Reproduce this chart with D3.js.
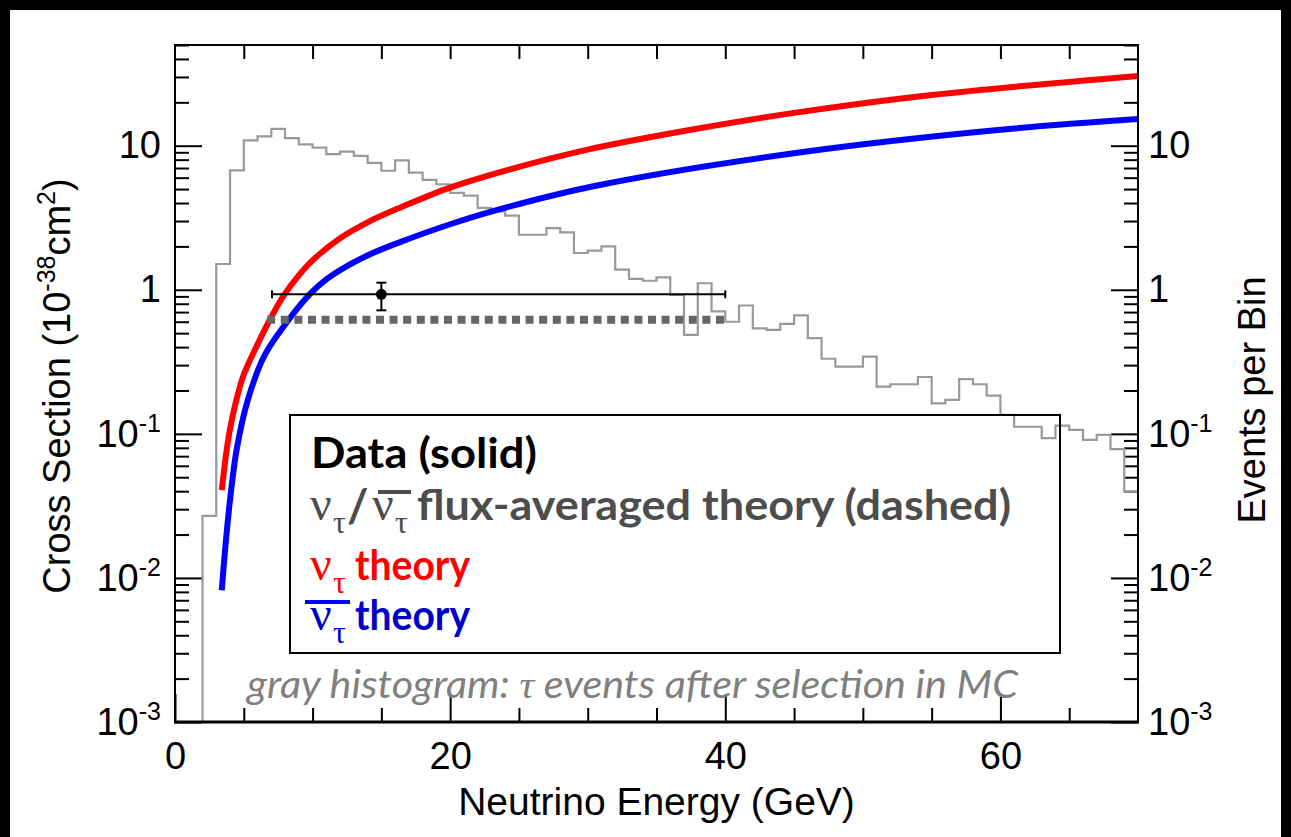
<!DOCTYPE html>
<html>
<head>
<meta charset="utf-8">
<script src="https://cdn.jsdelivr.net/npm/d3@7"></script>
<style>
  body { margin: 0; background: #fff; }
  svg { display: block; }
</style>
</head>
<body>
<svg id="chart"></svg>
<script>
// MC tau events per 1 GeV bin, 0..70 GeV (0 = below the axis)
const histBinWidth = 1;
const histCounts = [
  0, 0, 0.027, 1.51, 6.74, 10.9, 11.6, 13.1, 11.3, 10.2,
  9.7, 8.75, 9.1, 8.5, 7.6, 6.7, 7.9, 6.5, 5.8, 5.4,
  4.7, 4.5, 3.7, 3.5, 3.27, 2.41, 2.41, 2.68, 2.5, 1.8,
  1.87, 2.0, 1.38, 1.19, 1.155, 1.22, 0.92, 0.487, 1.11, 0.707,
  0.6, 0.778, 0.54, 0.527, 0.58, 0.665, 0.462, 0.332, 0.293, 0.293,
  0.344, 0.213, 0.221, 0.221, 0.248, 0.163, 0.172, 0.24, 0.221, 0.184,
  0.1355, 0.112, 0.112, 0.0933, 0.114, 0.1066, 0.0908, 0.0984, 0.0783, 0.0397
];

// nu_tau theory (red)
const nutauEnergy = [3.4, 3.75, 4.0, 4.4, 5, 6, 7, 7.9, 9, 10, 12, 14, 16.4, 20, 25, 30, 37.7, 45, 55, 70];
const nutauXsec   = [0.0407, 0.0764, 0.108, 0.163, 0.258, 0.418, 0.647, 0.912, 1.26, 1.60, 2.28, 2.94, 3.73, 5.12, 7.13, 9.40, 13.0, 16.9, 22.5, 30.5];

// anti nu_tau theory (blue)
const nutaubarEnergy = [3.4, 3.64, 4.0, 4.5, 5.3, 6.5, 8.4, 9.8, 11, 12.5, 14.5, 16.4, 20, 23.5, 30.5, 45.5, 60, 70];
const nutaubarXsec   = [0.0082, 0.0156, 0.0348, 0.0796, 0.173, 0.349, 0.644, 0.933, 1.18, 1.46, 1.82, 2.15, 2.85, 3.60, 5.25, 9.0, 12.9, 15.3];

// measured point
const dataEnergy = [15];
const dataXsec = [0.93];
const dataEnergyRange = [7.05, 40];
const dataXsecRange = [0.72, 1.12];

// flux-averaged theory (dashed)
const avgEnergyRange = [6.7, 40.3];
const avgXsec = [0.62];

const energyTickLabels = [0, 20, 40, 60];
const energyMinorTicks = [5, 10, 15, 25, 30, 35, 45, 50, 55, 65];
const energyTopTicks = [5, 10, 15, 20, 25, 30, 35, 40, 45, 50, 55, 60, 65];
const decadeTicks = [1e-3, 1e-2, 1e-1, 1, 10];

class XsecChart {
  constructor() {
    this.svg = null;
    this.xscale = null;
    this.yscale = null;
  }

  init() {
    this.makeFig();
  }

  makeFig() {
    const width = 1291;
    const height = 837;
    const margin = {top: 45, right: 153, bottom: 115, left: 175};
    const w = width - margin.left - margin.right;
    const h = height - margin.top - margin.bottom;
    const sans = "'Liberation Sans', Arial, Helvetica, sans-serif";
    const legendFont = "Lato, 'Open Sans', sans-serif";
    const serif = "'Liberation Serif', 'Times New Roman', serif";

    const root = d3.select('#chart')
      .attr('width', width)
      .attr('height', height);
    root.selectAll('*').remove();

    // black frame round the picture
    root.append('rect').attr('x', 0).attr('y', 0).attr('width', width).attr('height', 10).attr('fill', '#000');
    root.append('rect').attr('x', 0).attr('y', 0).attr('width', 10).attr('height', height).attr('fill', '#000');
    root.append('rect').attr('x', width - 10).attr('y', 0).attr('width', 10).attr('height', height).attr('fill', '#000');

    this.svg = root.append('g')
      .attr('transform', `translate(${margin.left}, ${margin.top})`);

    this.xscale = d3.scaleLinear()
      .domain([0, 70])
      .range([0, w]);

    this.yscale = d3.scaleLog()
      .domain([1e-3, 50])
      .range([h, 0]);

    const x = this.xscale;
    const y = this.yscale;
    const yMin = y.domain()[0];
    const yc = v => y(Math.max(v, yMin));

    this.svg.append('clipPath').attr('id', 'plotclip')
      .append('rect').attr('width', w).attr('height', h);

    // axes
    const styleAxis = g => {
      g.select('.domain').remove();
      g.selectAll('.tick line').attr('stroke', '#000').attr('stroke-width', 2);
      g.selectAll('.tick text').attr('fill', '#000').attr('font-family', sans).attr('font-size', 38);
    };

    const minorDecade = y.ticks().filter(v => !decadeTicks.some(d => Math.abs(d - v) / d < 1e-6));

    this.svg.append('g')
      .attr('transform', `translate(0, ${h})`)
      .call(d3.axisBottom(x).tickValues(energyTickLabels).tickSize(-28).tickPadding(20).tickFormat(d3.format('d')))
      .call(styleAxis);

    this.svg.append('g')
      .attr('transform', `translate(0, ${h})`)
      .call(d3.axisBottom(x).tickValues(energyMinorTicks).tickSize(-14).tickFormat(''))
      .call(styleAxis);

    this.svg.append('g')
      .call(d3.axisTop(x).tickValues(energyTopTicks).tickSize(-14).tickFormat(''))
      .call(styleAxis);

    const decadeLabel = function(d) {
      const t = d3.select(this);
      const p = Math.round(Math.log10(d));
      t.text(null);
      if (p >= 0) {
        t.append('tspan').text(p === 0 ? '1' : '10');
      } else {
        t.append('tspan').text('10');
        t.append('tspan').attr('dy', -15).attr('font-size', 25).text(String(p));
      }
    };

    this.svg.append('g')
      .call(d3.axisLeft(y).tickValues(decadeTicks).tickSize(-27).tickPadding(14))
      .call(styleAxis)
      .selectAll('.tick text').each(decadeLabel);

    this.svg.append('g')
      .call(d3.axisLeft(y).tickValues(minorDecade).tickSize(-14).tickFormat(''))
      .call(styleAxis);

    this.svg.append('g')
      .attr('transform', `translate(${w}, 0)`)
      .call(d3.axisRight(y).tickValues(decadeTicks).tickSize(-27).tickPadding(10))
      .call(styleAxis)
      .selectAll('.tick text').each(decadeLabel);

    this.svg.append('g')
      .attr('transform', `translate(${w}, 0)`)
      .call(d3.axisRight(y).tickValues(minorDecade).tickSize(-14).tickFormat(''))
      .call(styleAxis);

    // histogram
    const histPts = histCounts.map((c, i) => ({e: i * histBinWidth, c: c}));
    histPts.push({e: histCounts.length * histBinWidth, c: histCounts[histCounts.length - 1]});
    const step = d3.line()
      .x(d => x(d.e))
      .y(d => yc(d.c))
      .curve(d3.curveStepAfter);

    const plot = this.svg.append('g').attr('clip-path', 'url(#plotclip)');

    plot.append('path')
      .attr('d', step(histPts))
      .attr('fill', 'none')
      .attr('stroke', '#999')
      .attr('stroke-width', 2.2);

    // theory curves
    const curve = d3.line()
      .x(d => x(d[0]))
      .y(d => y(d[1]))
      .curve(d3.curveCatmullRom.alpha(0.5));

    plot.append('path')
      .attr('d', curve(d3.zip(nutauEnergy, nutauXsec)))
      .attr('fill', 'none')
      .attr('stroke', '#ff0000')
      .attr('stroke-width', 6);

    plot.append('path')
      .attr('d', curve(d3.zip(nutaubarEnergy, nutaubarXsec)))
      .attr('fill', 'none')
      .attr('stroke', '#0000ff')
      .attr('stroke-width', 6);

    // flux-averaged theory
    plot.append('line')
      .attr('x1', x(avgEnergyRange[0]))
      .attr('x2', x(avgEnergyRange[1]))
      .attr('y1', y(avgXsec[0]))
      .attr('y2', y(avgXsec[0]))
      .attr('stroke', '#666')
      .attr('stroke-width', 8)
      .attr('stroke-dasharray', '8,5.6');

    // data point with errors
    const dg = plot.append('g').attr('stroke', '#000').attr('stroke-width', 2);
    dataEnergy.forEach((e, i) => {
      const cx = x(e), cy = y(dataXsec[i]);
      const xl = x(dataEnergyRange[0]), xr = x(dataEnergyRange[1]);
      const yl = y(dataXsecRange[0]), yh = y(dataXsecRange[1]);
      dg.append('line').attr('x1', xl).attr('x2', xr).attr('y1', cy).attr('y2', cy);
      dg.append('line').attr('x1', xl).attr('x2', xl).attr('y1', cy - 4).attr('y2', cy + 4);
      dg.append('line').attr('x1', xr).attr('x2', xr).attr('y1', cy - 4).attr('y2', cy + 4);
      dg.append('line').attr('x1', cx).attr('x2', cx).attr('y1', yl).attr('y2', yh);
      dg.append('line').attr('x1', cx - 5).attr('x2', cx + 5).attr('y1', yl).attr('y2', yl);
      dg.append('line').attr('x1', cx - 5).attr('x2', cx + 5).attr('y1', yh).attr('y2', yh);
      dg.append('circle').attr('cx', cx).attr('cy', cy).attr('r', 5.5).attr('fill', '#000').attr('stroke', 'none');
    });

    // frame
    this.svg.append('rect')
      .attr('width', w).attr('height', h)
      .attr('fill', 'none').attr('stroke', '#000').attr('stroke-width', 2);
    this.svg.append('line')
      .attr('x1', -1).attr('x2', w + 1).attr('y1', h).attr('y2', h)
      .attr('stroke', '#000').attr('stroke-width', 3);

    // axis titles
    root.append('text')
      .attr('x', margin.left + w / 2)
      .attr('y', 815)
      .attr('text-anchor', 'middle')
      .attr('font-family', sans)
      .attr('font-size', 39)
      .text('Neutrino Energy (GeV)');

    const yt = root.append('text')
      .attr('transform', 'translate(70, 386) rotate(-90)')
      .attr('text-anchor', 'middle')
      .attr('font-family', sans)
      .attr('font-size', 38);
    yt.append('tspan').text('Cross Section (10');
    yt.append('tspan').attr('dy', -15).attr('font-size', 25).text('-38');
    yt.append('tspan').attr('dy', 15).text('cm');
    yt.append('tspan').attr('dy', -15).attr('font-size', 25).text('2');
    yt.append('tspan').attr('dy', 15).text(')');

    root.append('text')
      .attr('transform', 'translate(1265, 400) rotate(-90)')
      .attr('text-anchor', 'middle')
      .attr('font-family', sans)
      .attr('font-size', 38)
      .text('Events per Bin');

    // legend
    root.append('rect')
      .attr('x', 290).attr('y', 415).attr('width', 770).attr('height', 238)
      .attr('fill', 'none').attr('stroke', '#000').attr('stroke-width', 2);

    root.append('text')
      .attr('x', 311).attr('y', 468)
      .attr('font-family', legendFont).attr('font-weight', 700).attr('font-size', 42)
      .attr('textLength', 226).attr('lengthAdjust', 'spacingAndGlyphs')
      .attr('fill', '#000')
      .text('Data (solid)');

    const nu = (g, xx, base, color, bar) => {
      g.append('text').attr('x', xx).attr('y', base)
        .attr('font-family', serif).attr('font-size', 48).attr('fill', color).text('ν');
      g.append('text').attr('x', xx + 23).attr('y', base + 13)
        .attr('font-family', serif).attr('font-size', 32).attr('fill', color).text('τ');
      if (bar) {
        return g.append('line').attr('x1', xx + bar[0]).attr('x2', xx + bar[1])
          .attr('y1', base - 28).attr('y2', base - 28)
          .attr('stroke', color).attr('stroke-width', 4);
      }
      return null;
    };

    const lg = root.append('g');
    const grey = '#4d4d4d';
    nu(lg, 310, 520, grey, null);
    lg.append('text').attr('x', 347).attr('y', 522)
      .attr('font-family', legendFont).attr('font-weight', 700).attr('font-size', 46)
      .attr('fill', grey).text('/');
    nu(lg, 372, 520, grey, [6, 39]);
    lg.append('text').attr('x', 417).attr('y', 520)
      .attr('font-family', legendFont).attr('font-weight', 700).attr('font-size', 42)
      .attr('textLength', 594).attr('lengthAdjust', 'spacingAndGlyphs')
      .attr('fill', grey).text('flux-averaged theory (dashed)');

    nu(lg, 310, 580, '#ff0000', null);
    lg.append('text').attr('x', 355).attr('y', 580)
      .attr('font-family', legendFont).attr('font-weight', 700).attr('font-size', 42)
      .attr('textLength', 115).attr('lengthAdjust', 'spacingAndGlyphs')
      .attr('fill', '#ff0000').text('theory');

    const bar = nu(lg, 310, 630, '#0000cc', [-5, 40]);
    bar.attr('stroke', '#0000ff');
    lg.append('text').attr('x', 355).attr('y', 630)
      .attr('font-family', legendFont).attr('font-weight', 700).attr('font-size', 42)
      .attr('textLength', 115).attr('lengthAdjust', 'spacingAndGlyphs')
      .attr('fill', '#0000cc').text('theory');

    // caption
    const cap = root.append('text')
      .attr('x', 247).attr('y', 698)
      .attr('font-family', legendFont).attr('font-style', 'italic').attr('font-size', 38)
      .attr('textLength', 771).attr('lengthAdjust', 'spacingAndGlyphs')
      .attr('fill', '#808080');
    cap.append('tspan').text('gray histogram: ');
    cap.append('tspan').attr('font-family', serif).text('τ');
    cap.append('tspan').text(' events after selection in MC');
  }
}

const xc = new XsecChart();
xc.init();
</script>
</body>
</html>
